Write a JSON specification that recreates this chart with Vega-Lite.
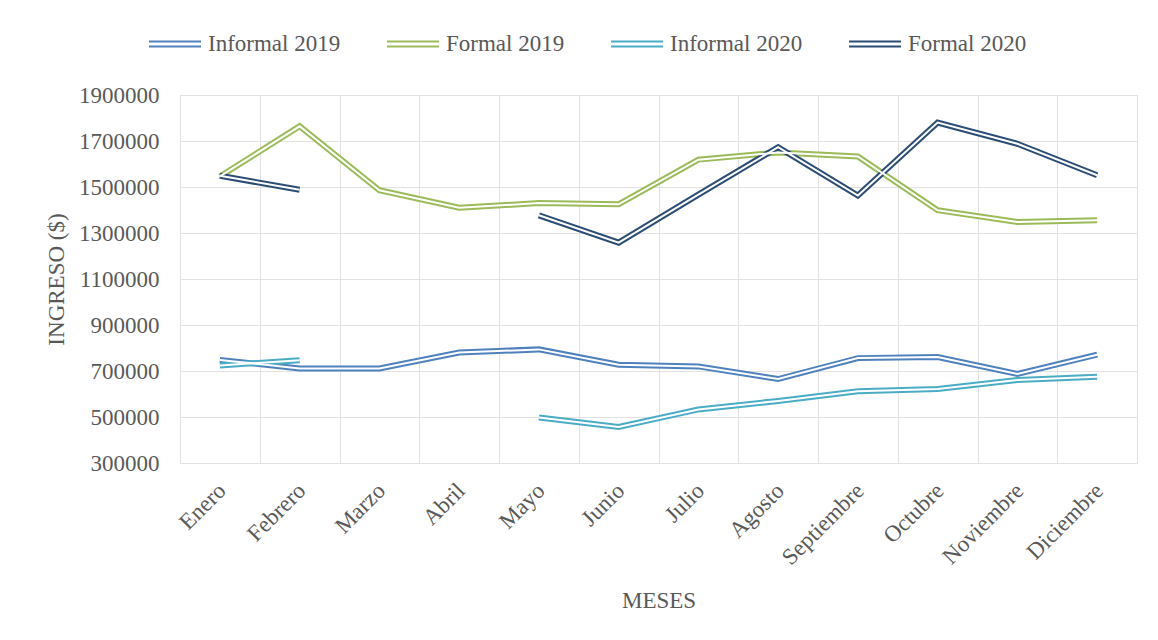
{
  "$schema": "https://vega.github.io/schema/vega-lite/v6.json",
  "width": 957,
  "height": 368,
  "autosize": {"type": "none"},
  "padding": {"left": 180, "top": 95, "right": 21, "bottom": 177},
  "background": "white",
  "config": {
    "font": "Liberation Serif",
    "view": {"stroke": "#e2e2e2", "strokeWidth": 1},
    "axis": {
      "labelFont": "Liberation Serif",
      "titleFont": "Liberation Serif",
      "labelFontSize": 23,
      "titleFontSize": 23,
      "labelColor": "#595959",
      "titleColor": "#595959",
      "titleFontWeight": "normal",
      "gridColor": "#e2e2e2",
      "gridWidth": 1,
      "ticks": false,
      "tickSize": 0,
      "domain": false
    },
    "legend": {
      "labelFont": "Liberation Serif",
      "labelFontSize": 23,
      "labelColor": "#595959",
      "labelLimit": 400
    }
  },
  "datasets": {
    "ingresos": [
      {"mes": "Enero", "serie": "Informal 2019", "valor": 748000},
      {"mes": "Febrero", "serie": "Informal 2019", "valor": 711000},
      {"mes": "Marzo", "serie": "Informal 2019", "valor": 711000},
      {"mes": "Abril", "serie": "Informal 2019", "valor": 780000},
      {"mes": "Mayo", "serie": "Informal 2019", "valor": 794000},
      {"mes": "Junio", "serie": "Informal 2019", "valor": 727000},
      {"mes": "Julio", "serie": "Informal 2019", "valor": 720000},
      {"mes": "Agosto", "serie": "Informal 2019", "valor": 665000},
      {"mes": "Septiembre", "serie": "Informal 2019", "valor": 756000},
      {"mes": "Octubre", "serie": "Informal 2019", "valor": 761000},
      {"mes": "Noviembre", "serie": "Informal 2019", "valor": 687000},
      {"mes": "Diciembre", "serie": "Informal 2019", "valor": 771000},
      {"mes": "Enero", "serie": "Formal 2019", "valor": 1546000},
      {"mes": "Febrero", "serie": "Formal 2019", "valor": 1764000},
      {"mes": "Marzo", "serie": "Formal 2019", "valor": 1486000},
      {"mes": "Abril", "serie": "Formal 2019", "valor": 1410000},
      {"mes": "Mayo", "serie": "Formal 2019", "valor": 1430000},
      {"mes": "Junio", "serie": "Formal 2019", "valor": 1425000},
      {"mes": "Julio", "serie": "Formal 2019", "valor": 1619000},
      {"mes": "Agosto", "serie": "Formal 2019", "valor": 1650000},
      {"mes": "Septiembre", "serie": "Formal 2019", "valor": 1633000},
      {"mes": "Octubre", "serie": "Formal 2019", "valor": 1399000},
      {"mes": "Noviembre", "serie": "Formal 2019", "valor": 1348000},
      {"mes": "Diciembre", "serie": "Formal 2019", "valor": 1355000},
      {"mes": "Enero", "serie": "Informal 2020", "valor": 724000},
      {"mes": "Febrero", "serie": "Informal 2020", "valor": 747000},
      {"mes": "Marzo", "serie": "Informal 2020", "valor": null},
      {"mes": "Abril", "serie": "Informal 2020", "valor": null},
      {"mes": "Mayo", "serie": "Informal 2020", "valor": 498000},
      {"mes": "Junio", "serie": "Informal 2020", "valor": 457000},
      {"mes": "Julio", "serie": "Informal 2020", "valor": 533000},
      {"mes": "Agosto", "serie": "Informal 2020", "valor": 570000},
      {"mes": "Septiembre", "serie": "Informal 2020", "valor": 612000},
      {"mes": "Octubre", "serie": "Informal 2020", "valor": 622000},
      {"mes": "Noviembre", "serie": "Informal 2020", "valor": 661000},
      {"mes": "Diciembre", "serie": "Informal 2020", "valor": 675000},
      {"mes": "Enero", "serie": "Formal 2020", "valor": 1549000},
      {"mes": "Febrero", "serie": "Formal 2020", "valor": 1488000},
      {"mes": "Marzo", "serie": "Formal 2020", "valor": null},
      {"mes": "Abril", "serie": "Formal 2020", "valor": null},
      {"mes": "Mayo", "serie": "Formal 2020", "valor": 1377000},
      {"mes": "Junio", "serie": "Formal 2020", "valor": 1258000},
      {"mes": "Julio", "serie": "Formal 2020", "valor": 1467000},
      {"mes": "Agosto", "serie": "Formal 2020", "valor": 1673000},
      {"mes": "Septiembre", "serie": "Formal 2020", "valor": 1463000},
      {"mes": "Octubre", "serie": "Formal 2020", "valor": 1780000},
      {"mes": "Noviembre", "serie": "Formal 2020", "valor": 1688000},
      {"mes": "Diciembre", "serie": "Formal 2020", "valor": 1551000}
    ]
  },
  "data": {"name": "ingresos"},
  "encoding": {
    "x": {
      "field": "mes",
      "type": "ordinal",
      "bandPosition": 0.5,
      "sort": ["Enero", "Febrero", "Marzo", "Abril", "Mayo", "Junio", "Julio", "Agosto", "Septiembre", "Octubre", "Noviembre", "Diciembre"],
      "scale": {"type": "band", "paddingInner": 0, "paddingOuter": 0},
      "axis": {
        "title": "MESES",
        "labelAngle": -45,
        "labelPadding": 16,
        "labelOffset": -6,
        "titlePadding": 20,
        "grid": true,
        "tickBand": "extent"
      }
    },
    "y": {
      "field": "valor",
      "type": "quantitative",
      "scale": {"domain": [300000, 1900000], "nice": false, "zero": false},
      "axis": {
        "title": "INGRESO ($)",
        "values": [300000, 500000, 700000, 900000, 1100000, 1300000, 1500000, 1700000, 1900000],
        "format": "d",
        "labelPadding": 21,
        "titlePadding": 10,
        "grid": true
      }
    }
  },
  "layer": [
    {
      "mark": {"type": "line", "strokeWidth": 6, "strokeCap": "butt", "strokeJoin": "miter", "invalid": "break-paths-show-domains"},
      "encoding": {
        "color": {
          "field": "serie",
          "type": "nominal",
          "sort": ["Informal 2019", "Formal 2019", "Informal 2020", "Formal 2020"],
          "scale": {
            "domain": ["Informal 2019", "Formal 2019", "Informal 2020", "Formal 2020"],
            "range": ["#4F81BD", "#9BBB59", "#4BACC6", "#2C4D75"]
          },
          "legend": {
            "title": null,
            "orient": "none",
            "direction": "horizontal",
            "columns": 4,
            "legendX": -32,
            "legendY": -78,
            "symbolType": "M-1,-0.1H1M-1,0.1H1",
            "symbolSize": 2704,
            "symbolStrokeWidth": 2,
            "symbolFillColor": "transparent",
            "labelOffset": 6,
            "columnPadding": 42
          }
        }
      }
    },
    {
      "mark": {"type": "line", "strokeWidth": 2, "color": "white", "strokeCap": "butt", "strokeJoin": "miter", "invalid": "break-paths-show-domains"},
      "encoding": {
        "detail": {"field": "serie", "type": "nominal"}
      }
    }
  ]
}
